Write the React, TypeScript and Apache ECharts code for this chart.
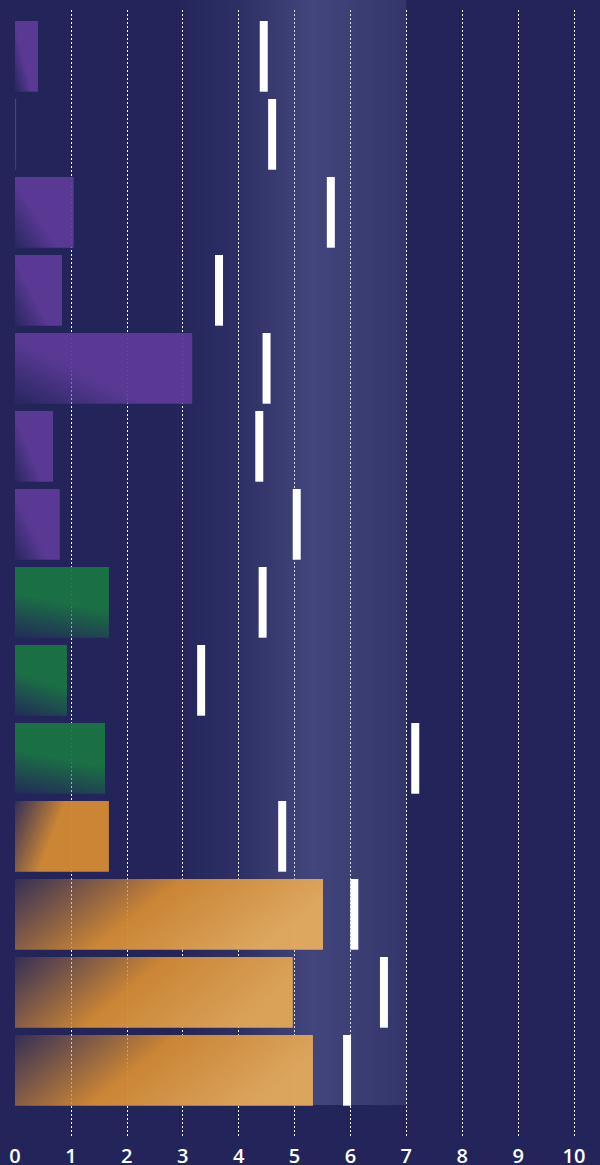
import React, { useEffect, useRef } from "react";
import * as echarts from "echarts";

const categories = ["C1", "C2", "C3", "C4", "C5", "C6", "C7", "C8", "C9", "C10", "C11", "C12", "C13", "C14"];
const groups = ["purple", "purple", "purple", "purple", "purple", "purple", "purple", "green", "green", "green", "orange", "orange", "orange", "orange"];
const barValues = [0.41, 0.02, 1.05, 0.84, 3.17, 0.68, 0.8, 1.68, 0.93, 1.61, 1.68, 5.51, 4.97, 5.33];
const markerValues = [4.45, 4.6, 5.65, 3.65, 4.5, 4.37, 5.04, 4.43, 3.33, 7.16, 4.78, 6.07, 6.6, 5.94];
const xTicks = [0, 1, 2, 3, 4, 5, 6, 7, 8, 9, 10];
const bandRange = [2.8, 7];

const NAVY = "#23255a";

function mix(a: number[], b: number[], t: number) {
  return a.map((v, i) => Math.round(v + (b[i] - v) * t));
}

function gradientFor(group: string, value: number) {
  if (group === "purple") {
    return new echarts.graphic.LinearGradient(0, 1, 1, 0.2, [
      { offset: 0, color: "rgba(92,58,151,0.08)" },
      { offset: 0.45, color: "rgba(92,58,151,0.95)" },
      { offset: 1, color: "rgba(92,58,151,0.95)" },
    ]);
  }
  if (group === "green") {
    return new echarts.graphic.LinearGradient(0, 1, 0.25, 0, [
      { offset: 0, color: "rgba(26,116,67,0.08)" },
      { offset: 0.6, color: "rgba(26,116,67,0.95)" },
      { offset: 1, color: "rgba(26,116,67,0.95)" },
    ]);
  }
  const t = Math.max(0, Math.min(1, (value - 2) / 3.5));
  const end = mix([208, 136, 52], [225, 170, 95], t);
  return new echarts.graphic.LinearGradient(0, 0, 1, 0.3, [
    { offset: 0, color: "rgba(208,136,52,0.1)" },
    { offset: 0.5, color: "rgba(208,136,52,0.97)" },
    { offset: 1, color: `rgba(${end[0]},${end[1]},${end[2]},0.97)` },
  ]);
}

export default function App() {
  const ref = useRef<HTMLDivElement>(null);

  useEffect(() => {
    document.body.style.margin = "0";
    document.body.style.background = NAVY;
    if (!ref.current) return;
    const chart = echarts.init(ref.current, undefined, { renderer: "svg" });

    const gridLeft = 15;
    const gridRight = 26;

    const option: any = {
      animation: false,
      backgroundColor: NAVY,
      grid: [
        { left: gridLeft, right: gridRight, top: 17.35, height: 1092 },
        { left: gridLeft, right: gridRight, top: 10, bottom: 28 },
        { left: gridLeft, right: gridRight, top: 0, bottom: 60 },
      ],
      xAxis: [
        { type: "value", gridIndex: 0, min: 0, max: 10, interval: 1, show: false },
        {
          type: "value",
          gridIndex: 1,
          min: xTicks[0],
          max: xTicks[xTicks.length - 1],
          interval: 1,
          axisLine: { show: false },
          axisTick: { show: false },
          axisLabel: {
            color: "#ffffff",
            fontSize: 20,
            lineHeight: 18,
            fontFamily: "Open Sans",
            fontWeight: 600,
            margin: 9,
          },
          splitLine: {
            show: true,
            showMinLine: false,
            lineStyle: { color: "#ffffff", width: 1, type: [2, 2] },
          },
        },
        { type: "value", gridIndex: 2, min: 0, max: 10, show: false },
      ],
      yAxis: [
        { type: "category", gridIndex: 0, data: categories, inverse: true, show: false },
        { type: "value", gridIndex: 1, min: 0, max: 1, show: false },
        { type: "value", gridIndex: 2, min: 0, max: 1, show: false },
      ],
      series: [
        {
          type: "line",
          xAxisIndex: 2,
          yAxisIndex: 2,
          data: [],
          z: 1,
          silent: true,
          markArea: {
            silent: true,
            itemStyle: {
              color: new echarts.graphic.LinearGradient(0, 0, 1, 0, [
                { offset: 0, color: "rgba(120,124,180,0)" },
                { offset: 0.29, color: "rgba(120,124,180,0.12)" },
                { offset: 0.6, color: "rgba(120,124,180,0.37)" },
                { offset: 1, color: "rgba(120,124,180,0.19)" },
              ]),
            },
            data: [[{ xAxis: bandRange[0] }, { xAxis: bandRange[1] }]],
          },
        },
        {
          type: "bar",
          xAxisIndex: 0,
          yAxisIndex: 0,
          z: 2,
          barWidth: "90.6%",
          data: barValues.map((v, i) => ({
            value: v,
            itemStyle: { color: gradientFor(groups[i], v) },
          })),
        },
        {
          type: "scatter",
          xAxisIndex: 0,
          yAxisIndex: 0,
          z: 3,
          symbol: "rect",
          symbolSize: [8, 70.7],
          itemStyle: { color: "#ffffff", opacity: 1 },
          data: markerValues.map((v, i) => [v, categories[i]]),
        },
      ],
    };

    chart.setOption(option);
    return () => chart.dispose();
  }, []);

  return <div ref={ref} style={{ width: 600, height: 1165, background: NAVY }} />;
}
